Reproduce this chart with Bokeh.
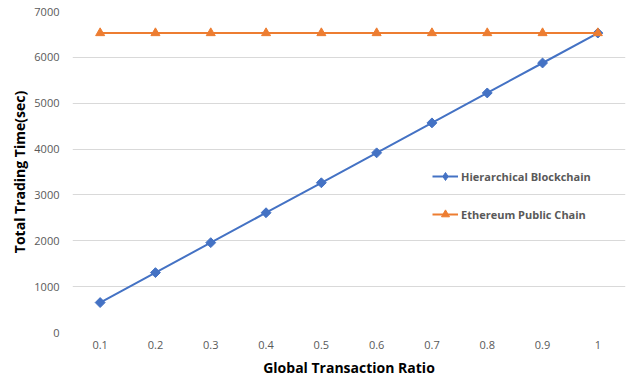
import math
from bokeh.plotting import figure
from bokeh.models import Legend, LegendItem, FactorRange, Range1d, SingleIntervalTicker
from bokeh.embed import file_html
from bokeh.resources import INLINE

ratios = ["0.1", "0.2", "0.3", "0.4", "0.5", "0.6", "0.7", "0.8", "0.9", "1"]
hierarchical = [653, 1306, 1959, 2612, 3265, 3918, 4571, 5224, 5877, 6530]
ethereum = [6530, 6530, 6530, 6530, 6530, 6530, 6530, 6530, 6530, 6530]

FONT = "Open Sans"
BLUE = "#4472C4"
ORANGE = "#ED7D31"

p = figure(
    width=632, height=380,
    x_range=FactorRange(*ratios),
    y_range=Range1d(0, 7000),
    output_backend="svg", toolbar_location=None,
    min_border_left=72, min_border_right=7,
    min_border_top=11, min_border_bottom=48,
)
p.outline_line_color = None
p.background_fill_color = "white"
p.border_fill_color = "white"

# grid
p.xgrid.grid_line_color = None
p.ygrid.grid_line_color = "#d9d9d9"
p.ygrid.grid_line_width = 1
p.yaxis.ticker = SingleIntervalTicker(interval=1000)

for ax in (p.xaxis[0], p.yaxis[0]):
    ax.axis_line_color = None
    ax.major_tick_line_color = None
    ax.minor_tick_line_color = None
    ax.major_tick_out = 0
    ax.major_tick_in = 0
    ax.major_label_text_font = FONT
    ax.major_label_text_font_size = "11px"
    ax.major_label_text_color = "#595959"
    ax.axis_label_text_font = FONT
    ax.axis_label_text_font_style = "bold"
    ax.axis_label_text_font_size = "14px"
    ax.axis_label_text_color = "#000000"

p.xaxis.axis_label = "Global Transaction Ratio"
p.yaxis.axis_label = "Total Trading Time(sec)"
p.xaxis.major_label_standoff = 8
p.xaxis.axis_label_standoff = 6
p.yaxis.major_label_standoff = 9
p.yaxis.axis_label_standoff = 2

# series
l1 = p.line(ratios, hierarchical, line_color=BLUE, line_width=2)
m1 = p.scatter(ratios, hierarchical, marker="square", angle=math.pi / 4, size=7,
               fill_color=BLUE, line_color=BLUE)
l2 = p.line(ratios, ethereum, line_color=ORANGE, line_width=2)
m2 = p.scatter(ratios, ethereum, marker="triangle", size=9,
               fill_color=ORANGE, line_color=ORANGE)

# hidden marker renderers that only supply the legend swatches
k1 = p.scatter(ratios[:1], hierarchical[:1], marker="diamond", size=8,
               fill_color=BLUE, line_color=BLUE, visible=False)
k2 = p.scatter(ratios[:1], ethereum[:1], marker="triangle", size=8,
               fill_color=ORANGE, line_color=ORANGE, visible=False)

legend = Legend(
    items=[
        LegendItem(label="Hierarchical Blockchain", renderers=[l1, k1]),
        LegendItem(label="Ethereum Public Chain", renderers=[l2, k2]),
    ],
    location=(360, 108),
    orientation="vertical",
    background_fill_alpha=0,
    border_line_color=None,
    padding=0, margin=0, spacing=18,
    glyph_width=26, glyph_height=20,
    label_standoff=3,
    label_text_font=FONT,
    label_text_font_style="bold",
    label_text_font_size="11px",
    label_text_color="#595959",
)
p.add_layout(legend)

open("out.html", "w").write(file_html(p, INLINE))
